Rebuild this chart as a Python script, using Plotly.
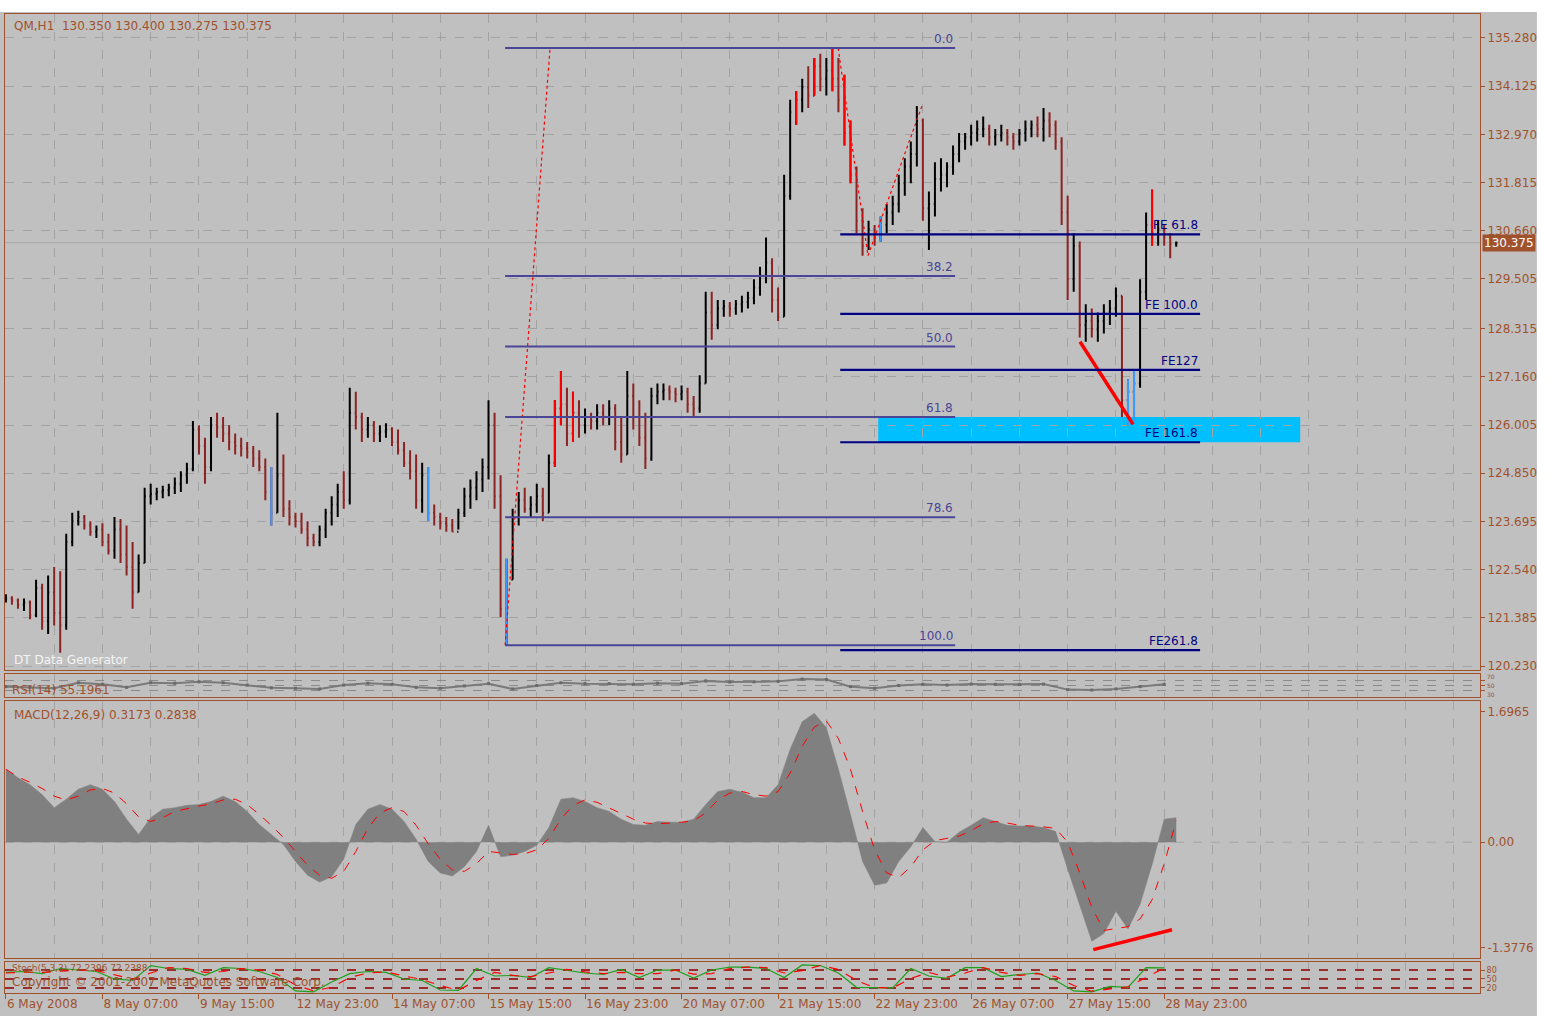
## import packages
import numpy as np
import plotly.graph_objects as go
from plotly.subplots import make_subplots


## data ----

### price bars (one bar every 2 index units, H1 bars)
highs = [121.95, 121.90, 121.85, 121.85, 121.80, 122.30, 122.20, 122.40, 122.60, 122.50,
         123.40, 123.90, 123.95, 123.85, 123.70, 123.60, 123.65, 123.40, 123.80, 123.75,
         123.60, 123.20, 122.90, 124.50, 124.60, 124.50, 124.55, 124.60, 124.75, 124.90,
         125.10, 126.10, 126.00, 125.70, 126.20, 126.30, 126.20, 126.00, 125.80, 125.70,
         125.60, 125.50, 125.40, 125.20, 125.00, 126.30, 125.30, 124.20, 123.90, 123.90,
         123.70, 123.40, 123.60, 124.00, 124.30, 124.60, 124.90, 126.90, 126.80, 126.30,
         126.20, 126.10, 126.00, 126.05, 125.95, 125.90, 125.60, 125.40, 125.30, 125.10,
         125.00, 124.10, 123.90, 123.80, 123.75, 124.00, 124.50, 124.70, 124.90, 125.20,
         126.60, 126.30, 124.80, 122.80, 124.00, 124.40, 124.50, 124.30, 124.60, 124.50,
         125.30, 126.60, 127.30, 126.90, 126.80, 126.60, 126.40, 126.30, 126.50, 126.50,
         126.60, 126.50, 126.20, 127.30, 127.00, 126.60, 126.30, 126.90, 127.00, 127.00,
         126.95, 126.90, 126.95, 126.90, 126.70, 127.20, 129.20, 129.20, 129.00, 129.00,
         128.95, 129.00, 129.10, 129.20, 129.50, 129.80, 130.50, 130.00, 129.30, 132.00,
         133.80, 134.00, 134.30, 134.60, 134.80, 134.90, 134.80, 135.04, 134.80, 134.40,
         133.30, 132.20, 131.20, 130.90, 130.80, 131.00, 131.30, 131.50, 132.00, 132.40,
         132.80, 133.65, 133.35, 131.60, 132.30, 132.40, 132.30, 132.70, 133.00, 133.00,
         133.20, 133.30, 133.40, 133.20, 133.10, 133.20, 133.10, 133.00, 133.10, 133.30,
         133.30, 133.40, 133.60, 133.50, 133.30, 132.90, 131.50, 130.60, 130.40, 128.90,
         128.80, 128.70, 128.90, 129.00, 129.30, 129.10, 127.10, 127.30, 129.50, 131.10,
         131.65, 130.90, 130.80, 130.60, 130.40]

lows = [121.75, 121.70, 121.60, 121.55, 121.35, 121.40, 121.10, 121.00, 121.20, 120.55,
        121.10, 123.10, 123.60, 123.50, 123.35, 123.30, 123.10, 122.90, 122.80, 122.70,
        122.40, 121.60, 122.00, 122.70, 124.10, 124.20, 124.25, 124.30, 124.35, 124.40,
        124.60, 124.90, 125.30, 124.60, 124.90, 125.70, 125.60, 125.40, 125.30, 125.25,
        125.20, 125.00, 124.90, 124.20, 123.60, 123.90, 123.80, 123.60, 123.55, 123.40,
        123.10, 123.10, 123.10, 123.30, 123.60, 123.80, 124.00, 124.10, 125.90, 125.60,
        125.70, 125.60, 125.60, 125.70, 125.50, 125.30, 125.00, 124.70, 124.00, 123.90,
        123.70, 123.60, 123.50, 123.45, 123.45, 123.50, 123.80, 124.00, 124.20, 124.40,
        124.70, 124.00, 121.40, 120.73, 122.30, 123.60, 123.90, 123.80, 123.90, 123.70,
        123.90, 125.00, 126.00, 125.50, 125.60, 125.70, 125.80, 125.90, 125.90, 126.00,
        126.00, 125.40, 125.10, 125.30, 125.90, 125.50, 124.95, 125.15, 126.50, 126.60,
        126.60, 126.55, 126.60, 126.30, 126.20, 126.30, 127.00, 128.05, 128.30, 128.60,
        128.60, 128.65, 128.70, 128.80, 128.90, 129.10, 129.40, 128.70, 128.50, 128.60,
        131.40, 133.20, 133.50, 133.60, 133.90, 134.00, 133.90, 134.00, 133.50, 132.70,
        131.80, 130.60, 130.06, 130.20, 130.30, 130.40, 130.60, 130.80, 131.10, 131.50,
        131.80, 132.20, 130.90, 130.20, 131.00, 131.60, 131.70, 132.00, 132.30, 132.60,
        132.70, 132.80, 132.90, 132.70, 132.70, 132.80, 132.70, 132.60, 132.70, 132.80,
        132.90, 132.90, 132.80, 132.90, 132.60, 130.80, 129.00, 129.20, 128.10, 128.00,
        128.10, 128.00, 128.20, 128.40, 128.60, 126.20, 126.00, 126.10, 126.90, 129.00,
        130.30, 130.30, 130.30, 130.00, 130.275]

closes = [121.85, 121.80, 121.70, 121.75, 121.45, 122.10, 121.30, 122.00, 121.50, 121.20,
          123.20, 123.70, 123.80, 123.60, 123.45, 123.50, 123.20, 123.00, 123.50, 122.90,
          122.60, 122.00, 122.70, 124.30, 124.35, 124.40, 124.45, 124.50, 124.60, 124.80,
          124.95, 125.90, 125.50, 125.00, 126.00, 125.95, 125.80, 125.60, 125.50, 125.45,
          125.35, 125.20, 125.00, 124.40, 123.90, 124.80, 124.00, 123.80, 123.70, 123.50,
          123.30, 123.20, 123.50, 123.90, 124.10, 124.40, 124.20, 126.30, 126.20, 125.90,
          126.00, 125.80, 125.85, 125.90, 125.60, 125.40, 125.10, 124.90, 124.20, 124.80,
          123.90, 123.80, 123.65, 123.60, 123.45, 123.90, 124.30, 124.50, 124.70, 125.00,
          126.00, 124.30, 121.60, 122.30, 123.80, 124.20, 124.00, 124.10, 124.30, 123.90,
          125.10, 126.40, 126.50, 125.80, 126.30, 126.00, 126.20, 126.10, 126.30, 126.20,
          126.40, 125.60, 125.30, 126.70, 126.20, 125.70, 125.20, 126.70, 126.80, 126.85,
          126.80, 126.75, 126.80, 126.50, 126.40, 127.00, 128.70, 128.40, 128.80, 128.85,
          128.80, 128.90, 128.95, 129.05, 129.30, 129.60, 129.90, 129.00, 128.60, 131.50,
          133.50, 133.80, 134.10, 133.90, 134.60, 134.30, 134.50, 134.30, 133.80, 133.00,
          132.00, 130.90, 130.30, 130.70, 130.50, 130.80, 131.10, 131.30, 131.80, 132.20,
          132.50, 133.30, 131.20, 131.30, 131.90, 132.00, 132.20, 132.50, 132.80, 132.90,
          133.00, 133.10, 133.10, 132.90, 132.95, 133.00, 132.90, 132.80, 133.00, 133.10,
          133.20, 133.10, 133.30, 133.20, 132.80, 131.10, 129.50, 130.30, 128.40, 128.50,
          128.30, 128.50, 128.70, 128.80, 129.10, 126.60, 126.80, 127.00, 129.20, 130.80,
          130.60, 130.70, 130.50, 130.35, 130.375]

first_open = 121.80

### bars flagged by the indicator (drawn blue / bright red)
blue_bars = [44, 70, 83, 145, 186, 187]
red_bars = [91, 92, 94, 131, 134, 137, 139, 140, 190]

### MACD(12,26,9), one value every 4 index units
macd_hist = [0.95, 0.84, 0.75, 0.62, 0.45, 0.56, 0.69, 0.75, 0.69, 0.53,
             0.30, 0.10, 0.32, 0.43, 0.45, 0.48, 0.49, 0.53, 0.60, 0.53,
             0.40, 0.23, 0.10, -0.03, -0.25, -0.43, -0.52, -0.45, -0.22, 0.23,
             0.43, 0.49, 0.43, 0.27, 0.04, -0.25, -0.40, -0.44, -0.32, -0.12,
             0.22, -0.19, -0.17, -0.12, -0.04, 0.19, 0.56, 0.58, 0.53, 0.45,
             0.40, 0.30, 0.23, 0.22, 0.27, 0.26, 0.26, 0.30, 0.49, 0.66,
             0.69, 0.65, 0.58, 0.58, 0.75, 1.21, 1.57, 1.68, 1.49, 0.95,
             0.36, -0.25, -0.56, -0.53, -0.25, -0.06, 0.19, 0.01, 0.00, 0.13,
             0.22, 0.32, 0.27, 0.22, 0.21, 0.21, 0.19, 0.14, -0.35, -0.81,
             -1.29, -1.19, -0.90, -1.13, -0.81, -0.29, 0.30, 0.32]
macd_signal = [0.95, 0.85, 0.78, 0.70, 0.60, 0.55, 0.60, 0.68, 0.70, 0.64,
               0.50, 0.33, 0.27, 0.32, 0.40, 0.44, 0.47, 0.50, 0.55, 0.56,
               0.49, 0.36, 0.22, 0.06, -0.12, -0.30, -0.43, -0.47, -0.38, -0.12,
               0.18, 0.38, 0.45, 0.40, 0.22, -0.02, -0.22, -0.36, -0.38, -0.28,
               -0.12, -0.14, -0.16, -0.15, -0.10, 0.05, 0.30, 0.48, 0.55, 0.52,
               0.45, 0.37, 0.30, 0.25, 0.24, 0.25, 0.26, 0.28, 0.38, 0.55,
               0.64, 0.66, 0.62, 0.60, 0.66, 0.90, 1.25, 1.50, 1.58, 1.35,
               0.95, 0.40, -0.10, -0.40, -0.46, -0.32, -0.10, 0.02, 0.05, 0.08,
               0.15, 0.24, 0.27, 0.25, 0.22, 0.21, 0.20, 0.18, 0.00, -0.40,
               -0.85, -1.15, -1.12, -1.10, -1.00, -0.75, -0.28, 0.28]

### RSI(14), one value every 8 index units
rsi = [45, 42, 38, 62, 55, 42, 62, 60, 66, 62,
       52, 40, 38, 35, 52, 60, 55, 42, 38, 48,
       58, 35, 50, 62, 58, 58, 55, 60, 58, 70,
       65, 66, 68, 78, 76, 45, 38, 50, 55, 52,
       56, 55, 54, 56, 32, 30, 35, 45, 55]

### Stochastic, one value every 6 index units
stoch_main = [72, 75, 68, 85, 80, 75, 50, 45, 95, 85,
              82, 62, 88, 85, 75, 55, 10, 7, 40, 68,
              75, 72, 50, 45, 13, 12, 85, 60, 62, 55,
              88, 78, 70, 65, 82, 55, 80, 80, 53, 80,
              90, 90, 85, 55, 97, 95, 70, 22, 20, 20,
              85, 60, 52, 88, 88, 58, 65, 70, 45, 10,
              7, 25, 22, 88, 87]
stoch_signal = [70, 73, 72, 76, 80, 78, 63, 50, 70, 88,
                85, 72, 75, 85, 80, 65, 30, 10, 22, 55,
                70, 74, 60, 48, 28, 12, 45, 72, 62, 58,
                70, 82, 74, 68, 72, 68, 68, 80, 66, 68,
                85, 90, 88, 70, 78, 95, 82, 45, 21, 20,
                52, 72, 56, 70, 88, 72, 62, 68, 58, 28,
                9, 16, 24, 55, 87]

### axis labels
time_ticks = [0, 32, 64, 96, 128, 160, 192, 224, 256, 288, 320, 352, 384]
time_labels = ['6 May 2008', '8 May 07:00', '9 May 15:00', '12 May 23:00', '14 May 07:00',
               '15 May 15:00', '16 May 23:00', '20 May 07:00', '21 May 15:00', '22 May 23:00',
               '26 May 07:00', '27 May 15:00', '28 May 23:00']
price_labels = ['135.280', '134.125', '132.970', '131.815', '130.660', '129.505', '128.315',
                '127.160', '126.005', '124.850', '123.695', '122.540', '121.385', '120.230']
macd_labels = ['1.6965', '0.00', '-1.3776']
rsi_levels = [70, 50, 30]
stoch_levels = [80, 50, 20]

### drawn objects
fibo_high = 135.04
fibo_low = 120.73
fibo_x = [165.5, 314.7]
fibo_levels = [0.0, 38.2, 50.0, 61.8, 78.6, 100.0]

fe_x = [275.9, 285.8, 303.7]
fe_y = [135.04, 130.06, 133.65]
fe_span = [276.6, 395.9]
fe_levels = [61.8, 100.0, 127.0, 161.8, 261.8]
fe_labels = ['FE 61.8', 'FE 100.0', 'FE127', 'FE 161.8', 'FE261.8']

zone_x = [289.2, 429.1]
price_trend_x = [356.1, 373.7]
price_trend_y = [128.0, 126.02]
macd_trend_x = [360.5, 386.6]
macd_trend_y = [-1.40, -1.14]

last_price = 130.375


## styles ----
BG = '#c0c0c0'
BROWN = '#a0522d'
GRID = '#a3a3a3'
DOWN = '#8b2323'
FIBO = '#4a4596'
NAVY = '#000080'
FONT = 'DejaVu Sans'
X_RANGE = [-0.3, 488.7]

bar_step = 2
macd_step = 4
rsi_step = 8
stoch_step = 6


## chart ----
fig = make_subplots(rows=4, cols=1, shared_xaxes=True, vertical_spacing=0)

bar_x = np.arange(len(closes)) * bar_step
opens = [first_open] + closes[:-1]

fig.add_trace(go.Ohlc(
    x=bar_x, open=opens, high=highs, low=lows, close=closes,
    increasing=dict(line=dict(color='black', width=2)),
    decreasing=dict(line=dict(color=DOWN, width=2)),
    tickwidth=0.2, hoverinfo='skip', showlegend=False), row=1, col=1)

for idx_list, color in [(blue_bars, '#3d9bff'), (red_bars, '#ff0000')]:
    fig.add_trace(go.Ohlc(
        x=[bar_x[i] for i in idx_list],
        open=[opens[i] for i in idx_list], high=[highs[i] for i in idx_list],
        low=[lows[i] for i in idx_list], close=[closes[i] for i in idx_list],
        increasing=dict(line=dict(color=color, width=2)),
        decreasing=dict(line=dict(color=color, width=2)),
        tickwidth=0.2, hoverinfo='skip', showlegend=False), row=1, col=1)

# fibo expansion swing and red trend line on price
fig.add_trace(go.Scatter(x=fe_x, y=fe_y, mode='lines', line=dict(color='#ff0000', width=1.2, dash='dot'),
                         hoverinfo='skip', showlegend=False), row=1, col=1)
fig.add_trace(go.Scatter(x=[fibo_x[0], fibo_x[0] + 14.9], y=[fibo_low, fibo_high], mode='lines',
                         line=dict(color='#ff0000', width=1.2, dash='dot'),
                         hoverinfo='skip', showlegend=False), row=1, col=1)
fig.add_trace(go.Scatter(x=price_trend_x, y=price_trend_y, mode='lines', line=dict(color='#ff0000', width=3.5),
                         hoverinfo='skip', showlegend=False), row=1, col=1)

# RSI
fig.add_trace(go.Scatter(x=np.arange(len(rsi)) * rsi_step, y=rsi, mode='lines+markers',
                         line=dict(color='#7a7a7a', width=2), marker=dict(size=3, color='#6a6a6a', symbol='square'),
                         hoverinfo='skip', showlegend=False), row=2, col=1)

# MACD
macd_x = np.arange(len(macd_hist)) * macd_step
fig.add_trace(go.Scatter(x=macd_x, y=macd_hist, mode='lines', fill='tozeroy', fillcolor='#808080',
                         line=dict(color='#808080', width=0.5), hoverinfo='skip', showlegend=False), row=3, col=1)
fig.add_trace(go.Scatter(x=macd_x, y=macd_signal, mode='lines', line=dict(color='#ff0000', width=1, dash='dash'),
                         hoverinfo='skip', showlegend=False), row=3, col=1)
fig.add_trace(go.Scatter(x=macd_trend_x, y=macd_trend_y, mode='lines', line=dict(color='#ff0000', width=3.5),
                         hoverinfo='skip', showlegend=False), row=3, col=1)

# Stochastic
stoch_x = np.arange(len(stoch_main)) * stoch_step
fig.add_trace(go.Scatter(x=stoch_x, y=stoch_main, mode='lines', line=dict(color='#1ea01e', width=1.2),
                         hoverinfo='skip', showlegend=False), row=4, col=1)
fig.add_trace(go.Scatter(x=stoch_x, y=stoch_signal, mode='lines', line=dict(color='#ff0000', width=1.2, dash='dash'),
                         hoverinfo='skip', showlegend=False), row=4, col=1)


## shapes ----
# current price line
fig.add_shape(type='line', xref='x', yref='y', x0=X_RANGE[0], x1=X_RANGE[1], y0=last_price, y1=last_price,
              line=dict(color='#a8a8a8', width=1), layer='below')

# fibo retracement
fibo_prices = [fibo_high - (fibo_high - fibo_low) * lvl / 100 for lvl in fibo_levels]
for lvl, p in zip(fibo_levels, fibo_prices):
    fig.add_shape(type='line', xref='x', yref='y', x0=fibo_x[0], x1=fibo_x[1], y0=p, y1=p,
                  line=dict(color=FIBO, width=2))
    fig.add_annotation(x=fibo_x[1], y=p, xref='x', yref='y', text=f'{lvl:.1f}', showarrow=False,
                       xanchor='right', yanchor='bottom', font=dict(family=FONT, size=12, color=FIBO))

# fibo expansion
swing = fe_y[0] - fe_y[1]
fe_prices = [fe_y[2] - swing * lvl / 100 for lvl in fe_levels]

# confluence zone
fig.add_shape(type='rect', xref='x', yref='y', x0=zone_x[0], x1=zone_x[1],
              y0=fe_prices[3], y1=fibo_prices[3], fillcolor='#00bfff', line=dict(width=0), layer='below')

for lab, p in zip(fe_labels, fe_prices):
    fig.add_shape(type='line', xref='x', yref='y', x0=fe_span[0], x1=fe_span[1], y0=p, y1=p,
                  line=dict(color=NAVY, width=2.2))
    fig.add_annotation(x=fe_span[1], y=p, xref='x', yref='y', text=lab, showarrow=False,
                       xanchor='right', yanchor='bottom', font=dict(family=FONT, size=12, color=NAVY))

# MACD zero level
fig.add_shape(type='line', xref='x3', yref='y3', x0=X_RANGE[0], x1=X_RANGE[1], y0=0, y1=0,
              line=dict(color=GRID, width=1, dash='dash'), layer='below')

# white page outside the terminal window
fig.add_shape(type='rect', xref='paper', yref='paper', x0=1.0386, x1=1.2, y0=-0.1, y1=1.1,
              fillcolor='white', line=dict(width=0), layer='above')
fig.add_shape(type='rect', xref='paper', yref='paper', x0=-0.1, x1=1.2, y0=1.002, y1=1.1,
              fillcolor='white', line=dict(width=0), layer='above')


## text ----
def label(x, y, text, color=BROWN, size=12):
    fig.add_annotation(x=x, y=y, xref='paper', yref='paper', text=text, showarrow=False,
                       xanchor='left', yanchor='middle', font=dict(family=FONT, size=size, color=color))

label(0.0047, 0.9877, 'QM,H1  130.350 130.400 130.275 130.375')
label(0.0047, 0.3402, 'DT Data Generator', color='#f4f4f4')
label(0.0034, 0.3095, 'RSI(14) 55.1961')
label(0.0047, 0.2840, 'MACD(12,26,9) 0.3173 0.2838')
label(0.0034, 0.0255, 'Stoch(5,3,3) 72.2396 72.2388', size=9)
label(0.0034, 0.0110, 'Copyright © 2001-2007 MetaQuotes Software Corp.', size=12)

# RSI level labels, stacked so they fit the thin pane
for lvl, anchor in zip(rsi_levels, ['bottom', 'middle', 'top']):
    fig.add_annotation(x=1.004, y=lvl, xref='paper', yref='y2', text=str(lvl), showarrow=False,
                       xanchor='left', yanchor=anchor, borderpad=0,
                       font=dict(family=FONT, size=6, color=BROWN))

fig.add_annotation(x=1.0015, y=last_price, xref='paper', yref='y', text=f'{last_price:.3f}', showarrow=False,
                   xanchor='left', yanchor='middle', bgcolor=BROWN, borderpad=1,
                   font=dict(family=FONT, size=12, color='white'))


## axes ----
axis_line = dict(showline=True, mirror=True, linecolor=BROWN, linewidth=1, zeroline=False)
tickfont = dict(family=FONT, size=12, color=BROWN)
small_tickfont = dict(family=FONT, size=8, color=BROWN)

fig.update_xaxes(
    **axis_line, range=X_RANGE, rangeslider_visible=False,
    tickmode='array', tickvals=time_ticks, ticktext=time_labels,
    showgrid=True, gridcolor=GRID, griddash='dash', gridwidth=1,
    minor=dict(tickmode='linear', tick0=0, dtick=16, showgrid=True, gridcolor=GRID, griddash='dash'),
    showticklabels=False, ticks='')
fig.update_xaxes(showticklabels=True, ticks='outside', ticklen=5, tickcolor=BROWN, tickfont=tickfont,
                 ticklabelposition='outside right', row=4, col=1)

fig.update_yaxes(**axis_line, side='right', ticks='outside', ticklen=4, tickcolor=BROWN, tickfont=tickfont)

fig.update_yaxes(domain=[0.3299, 1.0], range=[120.134, 135.854], tickmode='array',
                 tickvals=[float(v) for v in price_labels], ticktext=price_labels,
                 showgrid=True, gridcolor=GRID, griddash='dash', row=1, col=1)
fig.update_yaxes(domain=[0.3024, 0.3258], range=[0, 100], tickmode='array',
                 tickvals=rsi_levels, showticklabels=False,
                 showgrid=True, gridcolor='#8a8a8a', griddash='dash', row=2, col=1)
fig.update_yaxes(domain=[0.0358, 0.2983], range=[-1.508, 1.84], tickmode='array',
                 tickvals=[float(v) for v in macd_labels], ticktext=macd_labels,
                 showgrid=False, row=3, col=1)
fig.update_yaxes(domain=[0.0, 0.0317], range=[3, 107], tickmode='array',
                 tickvals=stoch_levels, ticktext=[str(v) for v in stoch_levels],
                 showgrid=True, gridcolor='#9b2c2c', griddash='dash', gridwidth=1.5,
                 tickfont=small_tickfont, row=4, col=1)


## layout ----
fig.update_layout(
    width=1552, height=1016,
    margin=dict(l=5, r=72, t=14, b=23),
    paper_bgcolor=BG, plot_bgcolor=BG,
    showlegend=False,
    font=dict(family=FONT, size=12, color=BROWN),
)

fig.write_html("out.html", config={'displayModeBar': False},
               post_script="document.body.style.margin='0px';")
